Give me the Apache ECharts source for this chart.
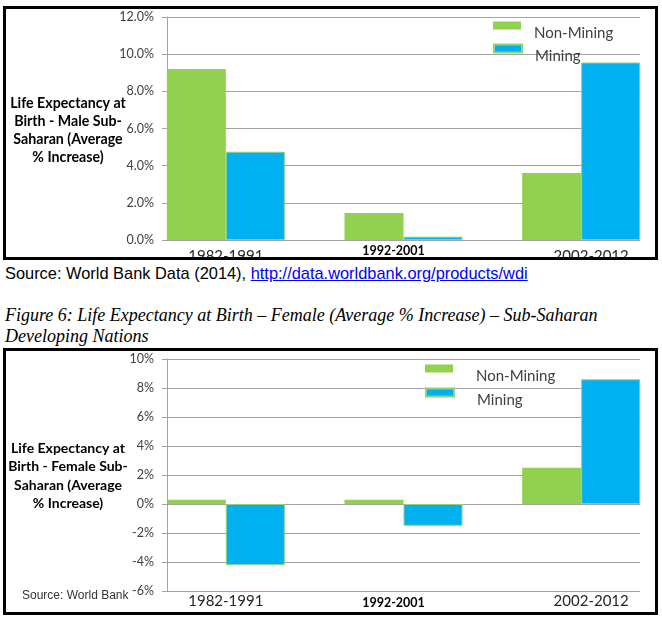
<!DOCTYPE html>
<html>
<head>
<meta charset="utf-8">
<script src="https://cdn.jsdelivr.net/npm/echarts@6/dist/echarts.min.js"></script>
<style>
body { margin:0; background:#fff; width:662px; height:624px; position:relative; overflow:hidden; }
.frame { position:absolute; border:3px solid #000; overflow:hidden; background:#fff; }
.chart { position:absolute; left:0; top:0; }
#src { position:absolute; left:5px; top:263px; font:16.4px 'Liberation Sans', Arial, sans-serif; line-height:20px; color:#000; white-space:nowrap; }
#src a { color:#0000ff; text-decoration:underline; }
#cap { position:absolute; left:5px; top:305px; font:italic 18px 'Liberation Serif', 'Times New Roman', serif; line-height:21px; color:#000; white-space:nowrap; }
</style>
</head>
<body>
<div class="frame" style="left:3px;top:6px;width:649px;height:248px;"><div id="c1" class="chart" style="width:649px;height:248px;"></div></div>
<div id="src">Source: World Bank Data (2014), <a>http://data.worldbank.org/products/wdi</a></div>
<div id="cap">Figure 6: Life Expectancy at Birth – Female (Average % Increase) – Sub-Saharan<br>Developing Nations</div>
<div class="frame" style="left:3px;top:348px;width:649px;height:261px;"><div id="c2" class="chart" style="width:649px;height:261px;"></div></div>
<script>
// periods
var periods = ['1982-1991', '1992-2001', '2002-2012'];
// male, average % increase
var maleNonMining = [9.2, 1.45, 3.6];
var maleMining = [4.75, 0.18, 9.55];
// female, average % increase
var femaleNonMining = [0.3, 0.3, 2.5];
var femaleMining = [-4.2, -1.5, 8.6];

var GREEN = '#92d050', BLUE = '#00b0f0', GRID = '#a3a3a3';
var FONT = 'Lato, "Open Sans", sans-serif';

function catData(padReg, padBold){
	return [
		{value: periods[0], textStyle:{fontSize:15, padding:padReg}},
		{value: periods[1], textStyle:{fontSize:12.5, fontWeight:'bold', color:'#000', padding:[padBold,20,0,0]}},
		{value: periods[2], textStyle:{fontSize:15, padding:[padReg[0],0,0,20]}}
	];
}

function legendItem(name, left, top, gap){
	return {data:[name], left:left, top:top, orient:'vertical', padding:0,
		icon:'rect', itemWidth:28, itemHeight:8,
		formatter:'{a|{name}}',
		textStyle:{rich:{a:{fontSize:15, color:'#404040', fontFamily:FONT, lineHeight:16, padding:[16,0,0,gap]}}}};
}

function makeChart(id, o){
	var chart = echarts.init(document.getElementById(id));
	chart.setOption({
		animation:false,
		textStyle:{fontFamily:FONT},
		grid:[
			{left:131, width:533, top:8, height:o.h, containLabel:false, outerBoundsMode:'none'},
			{left:161, width:473, top:8, height:o.h, containLabel:false, outerBoundsMode:'none'}
		],
		legend:[
			legendItem('Non-Mining', o.lgLeft, o.lgTop[0], o.lgGap),
			legendItem('Mining', o.lgLeft, o.lgTop[1], o.lgGap)
		],
		xAxis:[
			{type:'category', gridIndex:0, data:catData(o.padReg, o.padBold),
			 axisLine:{show:false}, axisTick:{show:false},
			 axisLabel:{margin:o.lblMargin, color:'#262626', fontFamily:FONT, interval:0}},
			{type:'value', gridIndex:1, min:0, max:1, show:false}
		],
		yAxis:[
			{type:'value', gridIndex:0, min:o.min, max:o.max, interval:2, show:false},
			{type:'value', gridIndex:1, min:o.min, max:o.max, interval:2,
			 axisLine:{show:true, lineStyle:{color:GRID, width:1}},
			 axisTick:{show:true, length:5, lineStyle:{color:GRID}},
			 splitLine:{show:true, lineStyle:{color:GRID, width:1}},
			 axisLabel:{margin:13, fontSize:12.5, color:'#404040', fontFamily:FONT, formatter:o.fmt}}
		],
		graphic:o.graphic,
		series:[
			{name:'Non-Mining', type:'bar', xAxisIndex:0, yAxisIndex:0, data:o.a, barWidth:59, barGap:'0%',
			 itemStyle:{color:GREEN}},
			{name:'Mining', type:'bar', xAxisIndex:0, yAxisIndex:0, data:o.b, barWidth:59, barGap:'0%',
			 itemStyle:{color:BLUE, borderColor:'#8fd37a', borderWidth:1}}
		]
	});
	return chart;
}

makeChart('c1', {
	h:223, min:0, max:12, a:maleNonMining, b:maleMining,
	fmt:function(v){ return v.toFixed(1) + '%'; },
	lgLeft:487, lgTop:[1, 24], lgGap:8,
	lblMargin:4, padReg:[5,0,0,0], padBold:0,
	graphic:[
		{type:'text', x:62, y:85, style:{text:'Life Expectancy at\nBirth - Male Sub-\nSaharan (Average\n% Increase)',
		 font:'bold 14.2px ' + FONT, lineHeight:18, align:'center', verticalAlign:'top', fill:'#000'}}
	]
});

makeChart('c2', {
	h:232, min:-6, max:10, a:femaleNonMining, b:femaleMining,
	fmt:function(v){ return v + '%'; },
	lgLeft:419, lgTop:[2, 26], lgGap:18,
	lblMargin:3, padReg:[0,0,0,0], padBold:2,
	graphic:[
		{type:'text', x:62, y:88, style:{text:'Life Expectancy at\nBirth - Female Sub-\nSaharan (Average\n% Increase)',
		 font:'bold 14px ' + FONT, lineHeight:18.5, align:'center', verticalAlign:'top', fill:'#000'}},
		{type:'text', x:16, y:245, style:{text:'Source: World Bank', font:'12px "Liberation Sans", Arial, sans-serif',
		 align:'left', verticalAlign:'middle', fill:'#333'}}
	]
});
</script>
</body>
</html>
